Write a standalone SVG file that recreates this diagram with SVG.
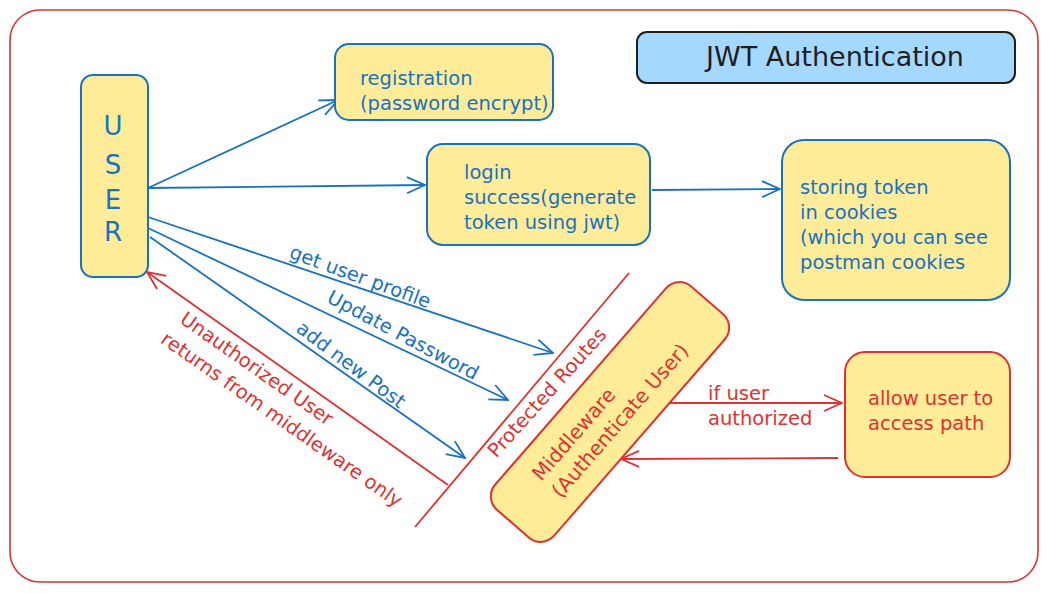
<svg xmlns="http://www.w3.org/2000/svg" width="1048" height="593" viewBox="0 0 1048 593">
<style>
.frame{fill:none;stroke:#e03131;stroke-width:1.6}
.nodeB{fill:#ffec99;stroke:#1971c2;stroke-width:2}
.nodeR{fill:#ffec99;stroke:#e03131;stroke-width:2}
.title{fill:#a5d8ff;stroke:#1e1e1e;stroke-width:2}
text{font-family:"DejaVu Sans","Liberation Sans",sans-serif}
.tb{fill:#1971c2;font-size:19.5px}
.tr{fill:#e03131;font-size:19.5px}
.lb{fill:#1971c2;font-size:19.5px}
.lr{fill:#e03131;font-size:19.5px}
.big{font-size:26px}
.mw{font-size:20px}
.eb{fill:none;stroke:#1971c2;stroke-width:1.8}
.er{fill:none;stroke:#e03131;stroke-width:1.8}
</style>
<defs>
<marker id="ab" viewBox="0 0 20 20" refX="19" refY="10" markerWidth="20" markerHeight="20" markerUnits="userSpaceOnUse" orient="auto">
<path d="M1,2 L19,10 L1,18" fill="none" stroke="#1971c2" stroke-width="1.8"/>
</marker>
<marker id="ar" viewBox="0 0 20 20" refX="19" refY="10" markerWidth="20" markerHeight="20" markerUnits="userSpaceOnUse" orient="auto">
<path d="M1,2 L19,10 L1,18" fill="none" stroke="#e03131" stroke-width="1.8"/>
</marker>
</defs>
<rect width="1048" height="593" fill="#ffffff"/>
<rect class="frame" x="10" y="10" width="1028" height="572" rx="30"/>

<g id="connectors">
<path class="eb" d="M148,188 L338,100" marker-end="url(#ab)"/>
<path class="eb" d="M148,188 L425,185" marker-end="url(#ab)"/>
<path class="eb" d="M652,190 L780,189" marker-end="url(#ab)"/>
<path class="eb" d="M148,217 L553,353" marker-end="url(#ab)"/>
<path class="eb" d="M148,228 L508,400" marker-end="url(#ab)"/>
<path class="eb" d="M150,237 L465,458" marker-end="url(#ab)"/>
<path class="er" d="M448,485 L147,272" marker-end="url(#ar)"/>
<path class="er" d="M670,403 L842,403" marker-end="url(#ar)"/>
<path class="er" d="M838,458 L621,459" marker-end="url(#ar)"/>
<text class="lb" text-anchor="middle" transform="translate(358,283) rotate(20)">get user profile</text>
<text class="lb" text-anchor="middle" transform="translate(400,341) rotate(28)">Update Password</text>
<text class="lb" text-anchor="middle" transform="translate(347,370) rotate(37)">add new Post</text>
<text class="lr" text-anchor="middle" transform="translate(253,374) rotate(35)">Unauthorized User</text>
<text class="lr" text-anchor="middle" transform="translate(278,425) rotate(35)">returns from middleware only</text>
<text class="lr" x="708" y="400">if user</text>
<text class="lr" x="708" y="425">authorized</text>
</g>

<g id="protected-routes">
<path class="er" d="M415,527 L629,273"/>
<text class="lr" text-anchor="middle" transform="translate(552,397) rotate(-48)">Protected Routes</text>
</g>

<g id="title">
<rect class="title" x="637" y="32" width="378" height="51" rx="10"/>
<text x="835" y="66" text-anchor="middle" font-size="27" fill="#1e1e1e">JWT Authentication</text>
</g>

<g id="user">
<rect class="nodeB" x="81" y="75" width="67" height="202" rx="12"/>
<text class="tb big" x="113" y="135" text-anchor="middle">U</text>
<text class="tb big" x="113" y="174" text-anchor="middle">S</text>
<text class="tb big" x="113" y="209" text-anchor="middle">E</text>
<text class="tb big" x="113" y="241" text-anchor="middle">R</text>
</g>

<g id="registration">
<rect class="nodeB" x="335" y="44" width="218" height="76" rx="14"/>
<text class="tb" x="360" y="85">registration</text>
<text class="tb" x="360" y="110">(password encrypt)</text>
</g>

<g id="login">
<rect class="nodeB" x="427" y="144" width="223" height="101" rx="16"/>
<text class="tb" x="464" y="179">login</text>
<text class="tb" x="464" y="204">success(generate</text>
<text class="tb" x="464" y="229">token using jwt)</text>
</g>

<g id="storing">
<rect class="nodeB" x="782" y="140" width="228" height="160" rx="22"/>
<text class="tb" x="800" y="194">storing token</text>
<text class="tb" x="800" y="219">in cookies</text>
<text class="tb" x="800" y="244">(which you can see</text>
<text class="tb" x="800" y="269">postman cookies</text>
</g>

<g id="middleware">
<g transform="translate(610,412) rotate(-49)">
<rect class="nodeR" x="-148" y="-39" width="296" height="78" rx="18"/>
<text class="tr mw" x="-98" y="-6">Middleware</text>
<text class="tr mw" x="-98" y="20">(Authenticate User)</text>
</g>
</g>

<g id="allow">
<rect class="nodeR" x="845" y="352" width="165" height="125" rx="20"/>
<text class="tr" x="868" y="405">allow user to</text>
<text class="tr" x="868" y="430">access path</text>
</g>
</svg>
